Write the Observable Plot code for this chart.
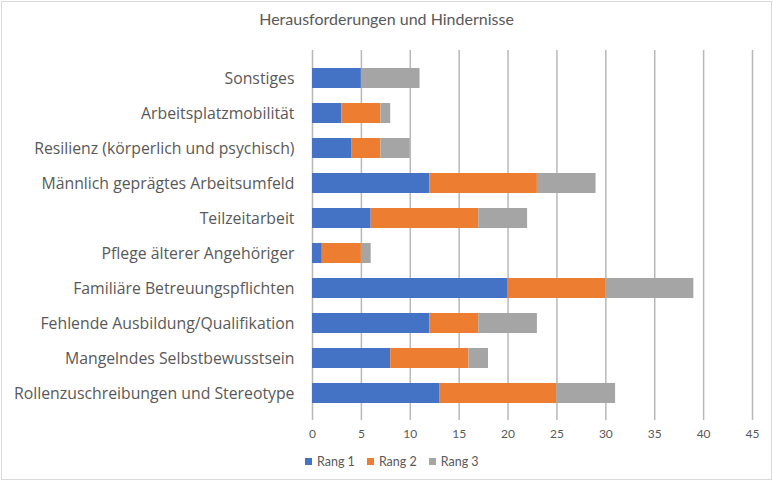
<!DOCTYPE html>
<html><head><meta charset="utf-8">
<script src="https://cdn.jsdelivr.net/npm/d3@7"></script>
<script src="https://cdn.jsdelivr.net/npm/@observablehq/plot@0.6"></script>
<style>
body{margin:0;background:#fff;font-family:Lato,"Open Sans",sans-serif;}
#wrap{position:relative;width:773px;height:481px;}
#frame{position:absolute;left:1px;top:1px;width:769px;height:477px;border:1px solid #d9d9d9;pointer-events:none;}
#title{position:absolute;top:9px;left:0;width:773px;text-align:center;font-size:16px;color:#595959;}
#legend{position:absolute;top:454px;left:305px;display:flex;gap:0;font-size:12.5px;color:#595959;}
.item{display:flex;align-items:center;margin-right:12px;}
.sw{width:7px;height:7px;margin-right:5px;}
</style></head>
<body><div id="wrap"><div id="title">Herausforderungen und Hindernisse</div><div id="legend"></div><div id="frame"></div></div>
<script>
const categories = ["Sonstiges","Arbeitsplatzmobilität","Resilienz (körperlich und psychisch)","Männlich geprägtes Arbeitsumfeld","Teilzeitarbeit","Pflege älterer Angehöriger","Familiäre Betreuungspflichten","Fehlende Ausbildung/Qualifikation","Mangelndes Selbstbewusstsein","Rollenzuschreibungen und Stereotype"];
const series = ["Rang 1","Rang 2","Rang 3"];
const rang1 = [5,3,4,12,6,1,20,12,8,13];
const rang2 = [0,4,3,11,11,4,10,5,8,12];
const rang3 = [6,1,3,6,5,1,9,6,2,6];
const colors = ["#4472C4","#ED7D31","#A5A5A5"];
const xTicks = [0,5,10,15,20,25,30,35,40,45];

const vals = [rang1,rang2,rang3];
const data = [];
series.forEach((s,si)=>categories.forEach((c,ci)=>data.push({cat:c,rang:s,value:vals[si][ci]})));

const chart = Plot.plot({
  width:773, height:481,
  marginTop:50, marginBottom:61, marginLeft:312, marginRight:21,
  style:{fontFamily:"Lato, 'Open Sans', sans-serif", color:"#595959", background:"transparent"},
  x:{domain:[0,45], ticks:xTicks, label:null},
  y:{domain:categories, padding:0.43, label:null},
  color:{domain:series, range:colors},
  marks:[
    Plot.ruleX(xTicks,{x:d=>d, stroke:"#b8b8b8", strokeWidth:1.5}),
    Plot.barX(data, Plot.stackX({y:"cat", x:"value", fill:"rang", order:series})),
    Plot.axisX({ticks:xTicks, tickSize:0, tickPadding:9, fontSize:12, fill:"#595959", label:null}),
    Plot.axisY({tickSize:0, tickPadding:18, fontSize:15.8, fontFamily:"'Open Sans', sans-serif", fill:"#595959", label:null})
  ]
});
document.getElementById("wrap").prepend(chart);
chart.style.position="absolute"; chart.style.left="0"; chart.style.top="0";
const lg = document.getElementById("legend");
series.forEach((s,i)=>{
  const it=document.createElement("div"); it.className="item";
  it.innerHTML=`<div class="sw" style="background:${colors[i]}"></div><span>${s}</span>`;
  lg.appendChild(it);
});
</script></body></html>
